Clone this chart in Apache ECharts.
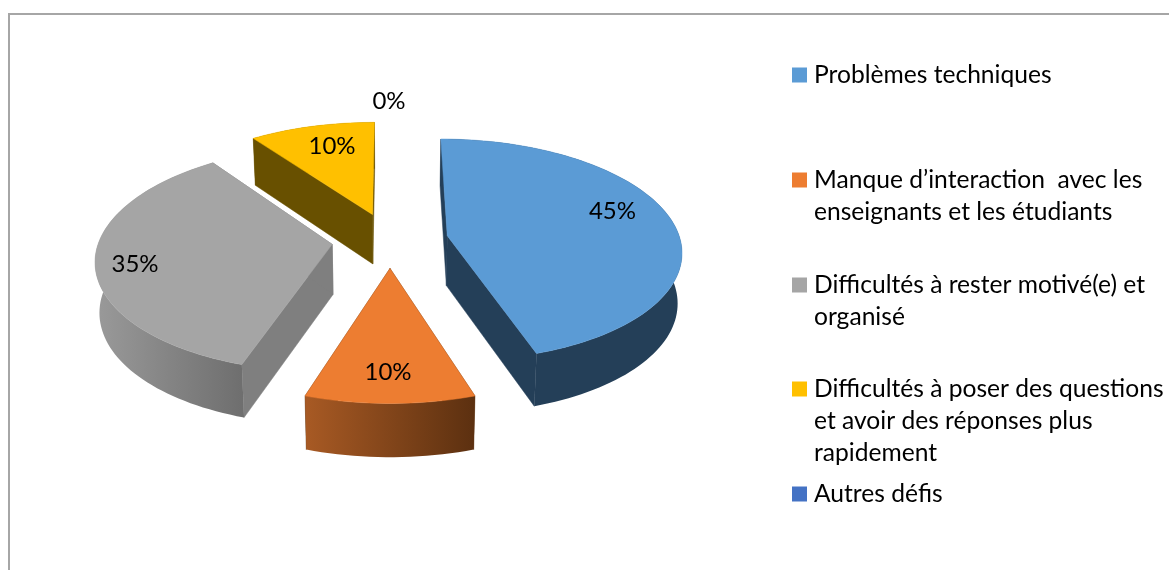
<!DOCTYPE html>
<html lang="fr">
<head>
    <meta charset="UTF-8">
    <title>Défis</title>
    <script src="https://cdn.jsdelivr.net/npm/echarts@6/dist/echarts.min.js"></script>
    <style>
        html, body { margin: 0; background: #fff; overflow: hidden; }
    </style>
</head>
<body>
<div id="myChart" style="width: 1169px;height: 570px;"></div>
<script>
    var categories = [
        'Problèmes techniques',
        'Manque d’interaction  avec les\nenseignants et les étudiants',
        'Difficultés à rester motivé(e) et\norganisé',
        'Difficultés à poser des questions\net avoir des réponses plus\nrapidement',
        'Autres défis'
    ];
    var values = [45, 10, 35, 10, 0];

    var colors = ['#5B9BD5', '#ED7D31', '#A5A5A5', '#FFC000', '#4472C4'];
    var cutColors = ['#243F58', '#5F3412', '#7F7F7F', '#685000', '#2A4575'];
    var wallLeft = ['#243F58', '#A85A24', '#9A9A9A', '#685000', '#2A4575'];
    var wallRight = ['#243F58', '#5C3010', '#6E6E6E', '#685000', '#2A4575'];
    var labelRadius = [0.74, 0.79, 0.83, 0.78, 1.255];
    var labelNudge = [[-1, -12], [-2, 0], [-1, 5], [8, 2], [-1, 0]];
    var legendLineY = [75, 180, 285, 389, 494];

    // fake 3D: disc coordinates pushed through a small perspective
    var cx = 390, cy = 240, rx = 233, ry = 110, persp = 0.127;
    var depth = 50, explode = 0.25;
    var font = 'Lato, "Noto Sans", sans-serif';
    var total = values.reduce(function (a, b) { return a + b; }, 0);

    function project(u, v, z) {
        var w = 1 / (1 - persp * v);
        return [cx + rx * u * w * (1 - 0.015 * z), cy + ry * v * w + depth * (1 + 0.06 * v) * z];
    }

    function polygon(points, fill, stroke) {
        return {
            type: 'polygon',
            shape: { points: points },
            style: { fill: fill, stroke: stroke || fill, lineWidth: 0.5 }
        };
    }

    function makeRenderItem(index) {
        return function (params, api) {
            var value = api.value(0);
            var start = 0;
            for (var k = 0; k < index; k++) start += values[k];
            var a0 = start / total * Math.PI * 2;
            var a1 = (start + value) / total * Math.PI * 2;
            var mid = (a0 + a1) / 2;
            var ox = explode * Math.sin(mid), oy = -explode * Math.cos(mid);
            var children = [];

            if (value > 0) {
                var steps = Math.max(2, Math.ceil((a1 - a0) / 0.03));
                var rimTop = [], rimBottom = [];
                for (var i = 0; i <= steps; i++) {
                    var a = a0 + (a1 - a0) * i / steps;
                    rimTop.push(project(ox + Math.sin(a), oy - Math.cos(a), 0));
                    rimBottom.push(project(ox + Math.sin(a), oy - Math.cos(a), 1));
                }
                var apexTop = project(ox, oy, 0), apexBottom = project(ox, oy, 1);
                children.push(polygon([apexTop, rimTop[0], rimBottom[0], apexBottom], cutColors[index]));
                children.push(polygon([apexTop, rimTop[steps], rimBottom[steps], apexBottom], cutColors[index]));
                children.push(polygon(rimTop.concat(rimBottom.slice().reverse()),
                    new echarts.graphic.LinearGradient(0, 0, 1, 0, [
                        { offset: 0, color: wallLeft[index] },
                        { offset: 1, color: wallRight[index] }
                    ]), 'none'));
                children.push(polygon([apexTop].concat(rimTop), colors[index]));
            }

            var lr = labelRadius[index];
            var lp = project(ox + lr * Math.sin(mid), oy - lr * Math.cos(mid), 0);
            children.push({
                type: 'text',
                z2: 10,
                style: {
                    x: lp[0] + labelNudge[index][0], y: lp[1] + labelNudge[index][1],
                    text: Math.round(value / total * 100) + '%',
                    align: 'center', verticalAlign: 'middle',
                    fill: '#000', font: '24px ' + font
                }
            });
            return { type: 'group', children: children };
        };
    }

    var myChart = echarts.init(document.getElementById('myChart'));

    var option = {
        animation: false,
        backgroundColor: '#fff',
        graphic: [{
            type: 'rect',
            silent: true,
            shape: { x: 9, y: 14, width: 1400, height: 800 },
            style: { fill: 'none', stroke: '#A6A6A6', lineWidth: 2 }
        }],
        legend: categories.map(function (name, i) {
            var n = name.split('\n').length;
            return {
                data: [name],
                left: 792,
                top: legendLineY[i] - (2 * n - 1) * 32 / 2,
                padding: 0,
                icon: 'rect',
                itemWidth: 15,
                itemHeight: 15,
                selectedMode: false,
                // leading blank lines keep the swatch on the first text line
                formatter: function (text) {
                    return new Array(n).join('\n') + text;
                },
                textStyle: { fontFamily: font, fontSize: 24.6, lineHeight: 32, color: '#000', padding: [0, 0, 0, 2] }
            };
        }),
        series: categories.map(function (name, i) {
            return {
                type: 'custom',
                name: name,
                coordinateSystem: 'none',
                renderItem: makeRenderItem(i),
                itemStyle: { color: colors[i] },
                data: [[values[i]]]
            };
        })
    };

    myChart.setOption(option);
</script>
</body>
</html>
